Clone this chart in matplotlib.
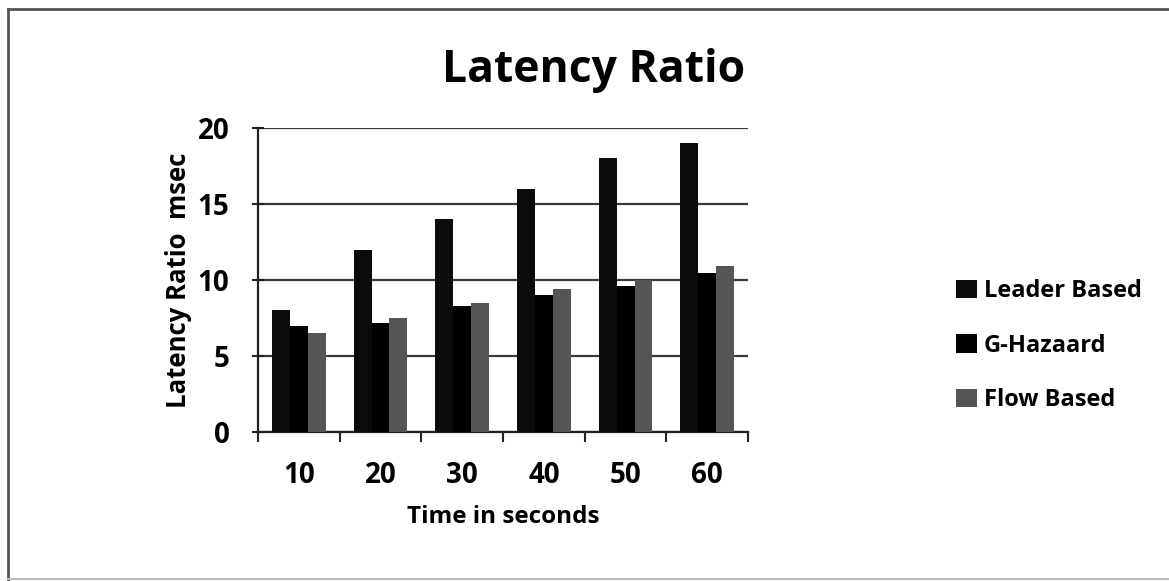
import matplotlib
matplotlib.use("Agg")
import matplotlib.pyplot as plt
from matplotlib.lines import Line2D
from matplotlib.patches import Patch
import numpy as np

# Data
times = ["10", "20", "30", "40", "50", "60"]
leader_based = [8, 12, 14, 16, 18, 19]
g_hazaard = [7.0, 7.2, 8.3, 9.0, 9.6, 10.45]
flow_based = [6.5, 7.5, 8.5, 9.4, 10.0, 10.9]
series_names = ["Leader Based", "G-Hazaard", "Flow Based"]
series_colors = ["#0b0b0b", "#000000", "#555555"]
y_ticks = [0, 5, 10, 15, 20]

plt.rcParams["font.family"] = ["Open Sans", "DejaVu Sans"]
plt.rcParams["font.weight"] = "bold"

fig = plt.figure(figsize=(11.69, 5.81), dpi=100)
ax = fig.add_axes([0.2207, 0.2565, 0.4192, 0.5232])

x = np.arange(len(times))
w = 0.22
for i, (vals, col, name) in enumerate(zip([leader_based, g_hazaard, flow_based],
                                           series_colors, series_names)):
    ax.bar(x + (i - 1) * w, vals, width=w, color=col, edgecolor="none",
           label=name, zorder=3)

ax.set_xlim(-0.5, len(times) - 0.5)
ax.set_ylim(0, 20)
ax.set_yticks(y_ticks)
ax.set_yticklabels([str(t) for t in y_ticks], fontsize=20, fontweight="bold")
ax.set_xticks(x)
ax.set_xticklabels(times, fontsize=20, fontweight="bold")
ax.set_xticks(np.arange(-0.5, len(times)), minor=True)
ax.tick_params(axis="x", which="major", length=0, pad=21)
ax.tick_params(axis="x", which="minor", length=7, width=1.5, direction="out",
               color="#222222")
ax.tick_params(axis="y", which="major", length=9, width=1.5, direction="inout",
               color="#222222", pad=16)

ax.grid(axis="y", color="#3a3a3a", linewidth=1.6, zorder=0)
ax.set_axisbelow(True)
for s in ["top", "right"]:
    ax.spines[s].set_visible(False)
for s in ["left", "bottom"]:
    ax.spines[s].set_linewidth(1.6)
    ax.spines[s].set_color("#222222")

ax.set_xlabel("Time in seconds", fontsize=17.5, fontweight="bold", labelpad=11)
ax.set_ylabel("Latency Ratio  msec", fontsize=18.5, fontweight="bold",
              labelpad=4)

fig.text(0.508, 0.878, "Latency Ratio", ha="center", va="center",
         fontsize=32, fontweight="bold")

handles = [Patch(facecolor=c, edgecolor="none") for c in series_colors]
fig.legend(handles, series_names, loc="center left",
           bbox_to_anchor=(0.8, 0.405), frameon=False, fontsize=17,
           handlelength=0.85, handleheight=0.8, handletextpad=0.3,
           labelspacing=1.3)

# Outer frame
frame_col = "#555555"
fig.add_artist(Line2D([8 / 1169, 1.0], [1 - 9 / 581] * 2, color=frame_col,
                      lw=2, transform=fig.transFigure))
fig.add_artist(Line2D([8 / 1169] * 2, [1 - 9 / 581, 0], color=frame_col,
                      lw=2, transform=fig.transFigure))
fig.add_artist(Line2D([8 / 1169, 1.0], [2 / 581] * 2, color="#bbbbbb",
                      lw=1.5, transform=fig.transFigure))

fig.savefig("out.png", dpi=100)
